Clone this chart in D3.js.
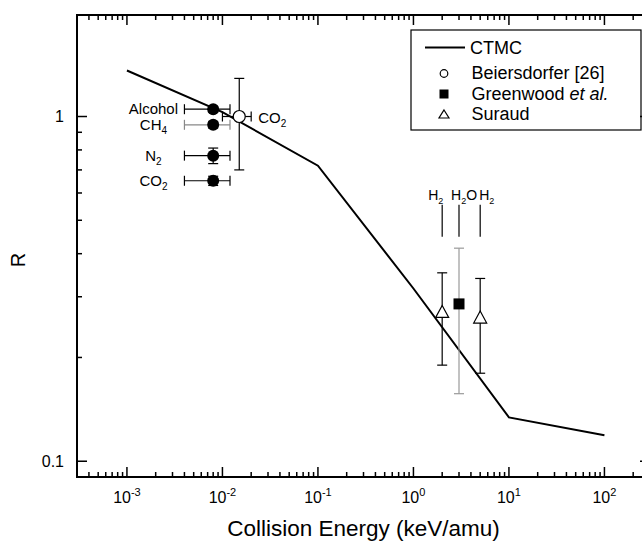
<!DOCTYPE html>
<html>
<head>
<meta charset="utf-8">
<script src="https://cdn.jsdelivr.net/npm/d3@7"></script>
<style>
  body { margin: 0; background: #fff; }
  svg { display: block; font-family: "Liberation Sans", Arial, Helvetica, sans-serif; }
</style>
</head>
<body>
<div id="chart"></div>
<script>
// CTMC curve
const ctmcEnergy = [1e-3, 1e-2, 1e-1, 1, 10, 100];
const ctmcRatio = [1.36, 1.03, 0.72, 0.317, 0.134, 0.119];

// filled circles (unlabelled set)
const gasNames = ['Alcohol', 'CH', 'N', 'CO'];
const gasSubs = ['', '4', '2', '2'];
const gasEnergy = [0.008, 0.008, 0.008, 0.008];
const gasEnergyLo = [0.004, 0.004, 0.004, 0.004];
const gasEnergyHi = [0.012, 0.012, 0.012, 0.012];
const gasRatio = [1.05, 0.946, 0.77, 0.651];
const gasRatioErr = [0.02, 0.02, 0.04, 0.02];

// Beiersdorfer [26]
const beiEnergy = [0.015];
const beiEnergyLo = [0.01];
const beiEnergyHi = [0.02];
const beiRatio = [1.0];
const beiRatioLo = [0.70];
const beiRatioHi = [1.29];

// Greenwood et al.
const greenEnergy = [3];
const greenRatio = [0.286];
const greenRatioLo = [0.157];
const greenRatioHi = [0.415];

// Suraud
const suraudEnergy = [2, 5];
const suraudRatio = [0.272, 0.262];
const suraudRatioLo = [0.19, 0.18];
const suraudRatioHi = [0.352, 0.339];

// molecule labels over the high energy points
const molEnergy = [2, 3, 5];
const molSubs = ['2', '2', '2'];
const molTails = ['', 'O', ''];
const molLineLo = 0.448;
const molLineHi = 0.555;
const molTextR = 0.573;

const xMajor = [1e-3, 1e-2, 1e-1, 1, 10, 100];
const xMajorExp = ['-3', '-2', '-1', '0', '1', '2'];
const yMajor = [0.1, 1];
const yMajorLabels = ['0.1', '1'];

const width = 642;
const height = 542;
const plotLeft = 77, plotRight = 650, plotTop = 15, plotBottom = 477;

const svg = d3.select('#chart').append('svg')
    .attr('width', width)
    .attr('height', height);

const x = d3.scaleLog().domain([3e-4, 300]).range([plotLeft, plotRight]);
const y = d3.scaleLog().domain([0.09, 1.97]).range([plotBottom, plotTop]);

function minorTicks(scale) {
  const [d0, d1] = scale.domain();
  const out = [];
  for (let e = Math.floor(Math.log10(d0)); e <= Math.ceil(Math.log10(d1)); e++) {
    for (let m = 2; m <= 9; m++) {
      const v = m * Math.pow(10, e);
      if (v > d0 * 1.001 && v < d1 * 0.999) out.push(v);
    }
  }
  return out;
}

// inward ticks along one edge, positions from the scale
function drawTicks(values, scale, horizontal, edge, len) {
  svg.append('g')
      .attr('stroke', '#000')
      .attr('stroke-width', 1.5)
    .selectAll('line')
    .data(values)
    .join('line')
      .attr('x1', d => horizontal ? scale(d) : edge)
      .attr('x2', d => horizontal ? scale(d) : edge + len)
      .attr('y1', d => horizontal ? edge : scale(d))
      .attr('y2', d => horizontal ? edge + len : scale(d));
}

// tick labels
xMajor.forEach((v, i) => {
  const t = svg.append('text')
      .attr('x', x(v))
      .attr('y', 503)
      .attr('text-anchor', 'middle')
      .attr('font-size', 16);
  t.append('tspan').text('10');
  t.append('tspan').attr('dy', -7).attr('font-size', 11).text(xMajorExp[i]);
});

yMajor.forEach((v, i) => {
  svg.append('text')
      .attr('x', 64)
      .attr('y', y(v) + 5.5)
      .attr('text-anchor', 'end')
      .attr('font-size', 16)
      .text(yMajorLabels[i]);
});

svg.append('text')
    .attr('x', (plotLeft + plotRight) / 2)
    .attr('y', 536)
    .attr('text-anchor', 'middle')
    .attr('font-size', 22.5)
    .text('Collision Energy (keV/amu)');

svg.append('text')
    .attr('transform', 'translate(25,260) rotate(-90)')
    .attr('text-anchor', 'middle')
    .attr('font-size', 20)
    .text('R');

// CTMC line
const ctmcLine = d3.line()
    .x(d => x(d[0]))
    .y(d => y(d[1]));

svg.append('path')
    .datum(d3.zip(ctmcEnergy, ctmcRatio))
    .attr('d', ctmcLine)
    .attr('fill', 'none')
    .attr('stroke', '#000')
    .attr('stroke-width', 2);

function vBar(px, lo, hi, color) {
  const g = svg.append('g').attr('stroke', color).attr('stroke-width', 1.2);
  g.append('line').attr('x1', px).attr('x2', px).attr('y1', y(lo)).attr('y2', y(hi));
  g.append('line').attr('x1', px - 5).attr('x2', px + 5).attr('y1', y(lo)).attr('y2', y(lo));
  g.append('line').attr('x1', px - 5).attr('x2', px + 5).attr('y1', y(hi)).attr('y2', y(hi));
}

function hBar(py, lo, hi, color) {
  const g = svg.append('g').attr('stroke', color).attr('stroke-width', 1.2);
  g.append('line').attr('x1', x(lo)).attr('x2', x(hi)).attr('y1', py).attr('y2', py);
  g.append('line').attr('x1', x(lo)).attr('x2', x(lo)).attr('y1', py - 5).attr('y2', py + 5);
  g.append('line').attr('x1', x(hi)).attr('x2', x(hi)).attr('y1', py - 5).attr('y2', py + 5);
}

function triangle(cx, cy, w, h) {
  return `M${cx},${cy - h / 2}L${cx + w / 2},${cy + h / 2}L${cx - w / 2},${cy + h / 2}Z`;
}

// filled circles with labels
gasRatio.forEach((r, i) => {
  hBar(y(r), gasEnergyLo[i], gasEnergyHi[i], i === 1 ? '#888' : '#000');
  vBar(x(gasEnergy[i]), r - gasRatioErr[i], r + gasRatioErr[i], '#000');
});
gasRatio.forEach((r, i) => {
  svg.append('circle')
      .attr('cx', x(gasEnergy[i]))
      .attr('cy', y(r))
      .attr('r', 6)
      .attr('fill', '#000');
  const t = svg.append('text')
      .attr('x', x(gasEnergyLo[i]) - 31)
      .attr('y', y(r) + 5)
      .attr('text-anchor', 'middle')
      .attr('font-size', 15);
  t.append('tspan').text(gasNames[i]);
  if (gasSubs[i]) t.append('tspan').attr('dy', 4).attr('font-size', 10).text(gasSubs[i]);
});

// Beiersdorfer
beiRatio.forEach((r, i) => {
  vBar(x(beiEnergy[i]), beiRatioLo[i], beiRatioHi[i], '#000');
  hBar(y(r), beiEnergyLo[i], beiEnergyHi[i], '#000');
  svg.append('circle')
      .attr('cx', x(beiEnergy[i]))
      .attr('cy', y(r))
      .attr('r', 6)
      .attr('fill', '#fff')
      .attr('stroke', '#000')
      .attr('stroke-width', 1.2);
  const t = svg.append('text')
      .attr('x', x(beiEnergyHi[i]) + 7)
      .attr('y', y(r) + 6)
      .attr('font-size', 15);
  t.append('tspan').text('CO');
  t.append('tspan').attr('dy', 4).attr('font-size', 10).text('2');
});

// Greenwood
greenRatio.forEach((r, i) => {
  vBar(x(greenEnergy[i]), greenRatioLo[i], greenRatioHi[i], '#999');
  svg.append('rect')
      .attr('x', x(greenEnergy[i]) - 5.5)
      .attr('y', y(r) - 5.5)
      .attr('width', 11)
      .attr('height', 11)
      .attr('fill', '#000');
});

// Suraud
suraudRatio.forEach((r, i) => {
  vBar(x(suraudEnergy[i]), suraudRatioLo[i], suraudRatioHi[i], '#000');
  svg.append('path')
      .attr('d', triangle(x(suraudEnergy[i]), y(r), 13, 12))
      .attr('fill', '#fff')
      .attr('stroke', '#000')
      .attr('stroke-width', 1.2);
});

// molecule labels
const molDx = [-14, -8, -1];
molEnergy.forEach((e, i) => {
  svg.append('line')
      .attr('x1', x(e)).attr('x2', x(e))
      .attr('y1', y(molLineLo)).attr('y2', y(molLineHi))
      .attr('stroke', '#000')
      .attr('stroke-width', 1.2);
  const t = svg.append('text')
      .attr('x', x(e) + molDx[i])
      .attr('y', y(molTextR))
      .attr('font-size', 14);
  t.append('tspan').text('H');
  t.append('tspan').attr('dy', 4).attr('font-size', 9).text(molSubs[i]);
  if (molTails[i]) t.append('tspan').attr('dy', -4).text(molTails[i]);
});

// legend
const legend = svg.append('g');
legend.append('rect')
    .attr('x', 411)
    .attr('y', 30)
    .attr('width', 230)
    .attr('height', 100)
    .attr('fill', '#fff')
    .attr('stroke', '#000')
    .attr('stroke-width', 1.2);

legend.append('line')
    .attr('x1', 425).attr('x2', 465)
    .attr('y1', 47.5).attr('y2', 47.5)
    .attr('stroke', '#000')
    .attr('stroke-width', 2);
legend.append('circle')
    .attr('cx', 444).attr('cy', 73.5).attr('r', 3.8)
    .attr('fill', '#fff').attr('stroke', '#000').attr('stroke-width', 1.2);
legend.append('rect')
    .attr('x', 439.5).attr('y', 89.5).attr('width', 9).attr('height', 9)
    .attr('fill', '#000');
legend.append('path')
    .attr('d', triangle(444, 114, 10, 8))
    .attr('fill', '#fff').attr('stroke', '#000').attr('stroke-width', 1.2);

const legendText = [['CTMC', 470, 53.5], ['Beiersdorfer [26]', 471.5, 79], ['Greenwood ', 471.5, 99.5], ['Suraud', 471.5, 119.5]];
legendText.forEach(([label, lx, ly], i) => {
  const t = legend.append('text')
      .attr('x', lx)
      .attr('y', ly)
      .attr('font-size', 18)
      .text(label);
  if (i === 2) t.append('tspan').attr('font-style', 'italic').text('et al.');
});

// frame, then major + minor ticks on all four sides, pointing inward
svg.append('rect')
    .attr('x', plotLeft)
    .attr('y', plotTop)
    .attr('width', plotRight - plotLeft)
    .attr('height', plotBottom - plotTop)
    .attr('fill', 'none')
    .attr('stroke', '#000')
    .attr('stroke-width', 2);

drawTicks(xMajor, x, true, plotBottom, -10);
drawTicks(minorTicks(x), x, true, plotBottom, -5);
drawTicks(xMajor, x, true, plotTop, 10);
drawTicks(minorTicks(x), x, true, plotTop, 5);
drawTicks(yMajor, y, false, plotLeft, 10);
drawTicks(minorTicks(y), y, false, plotLeft, 5);
drawTicks(yMajor, y, false, plotRight, -10);
drawTicks(minorTicks(y), y, false, plotRight, -5);
</script>
</body>
</html>
